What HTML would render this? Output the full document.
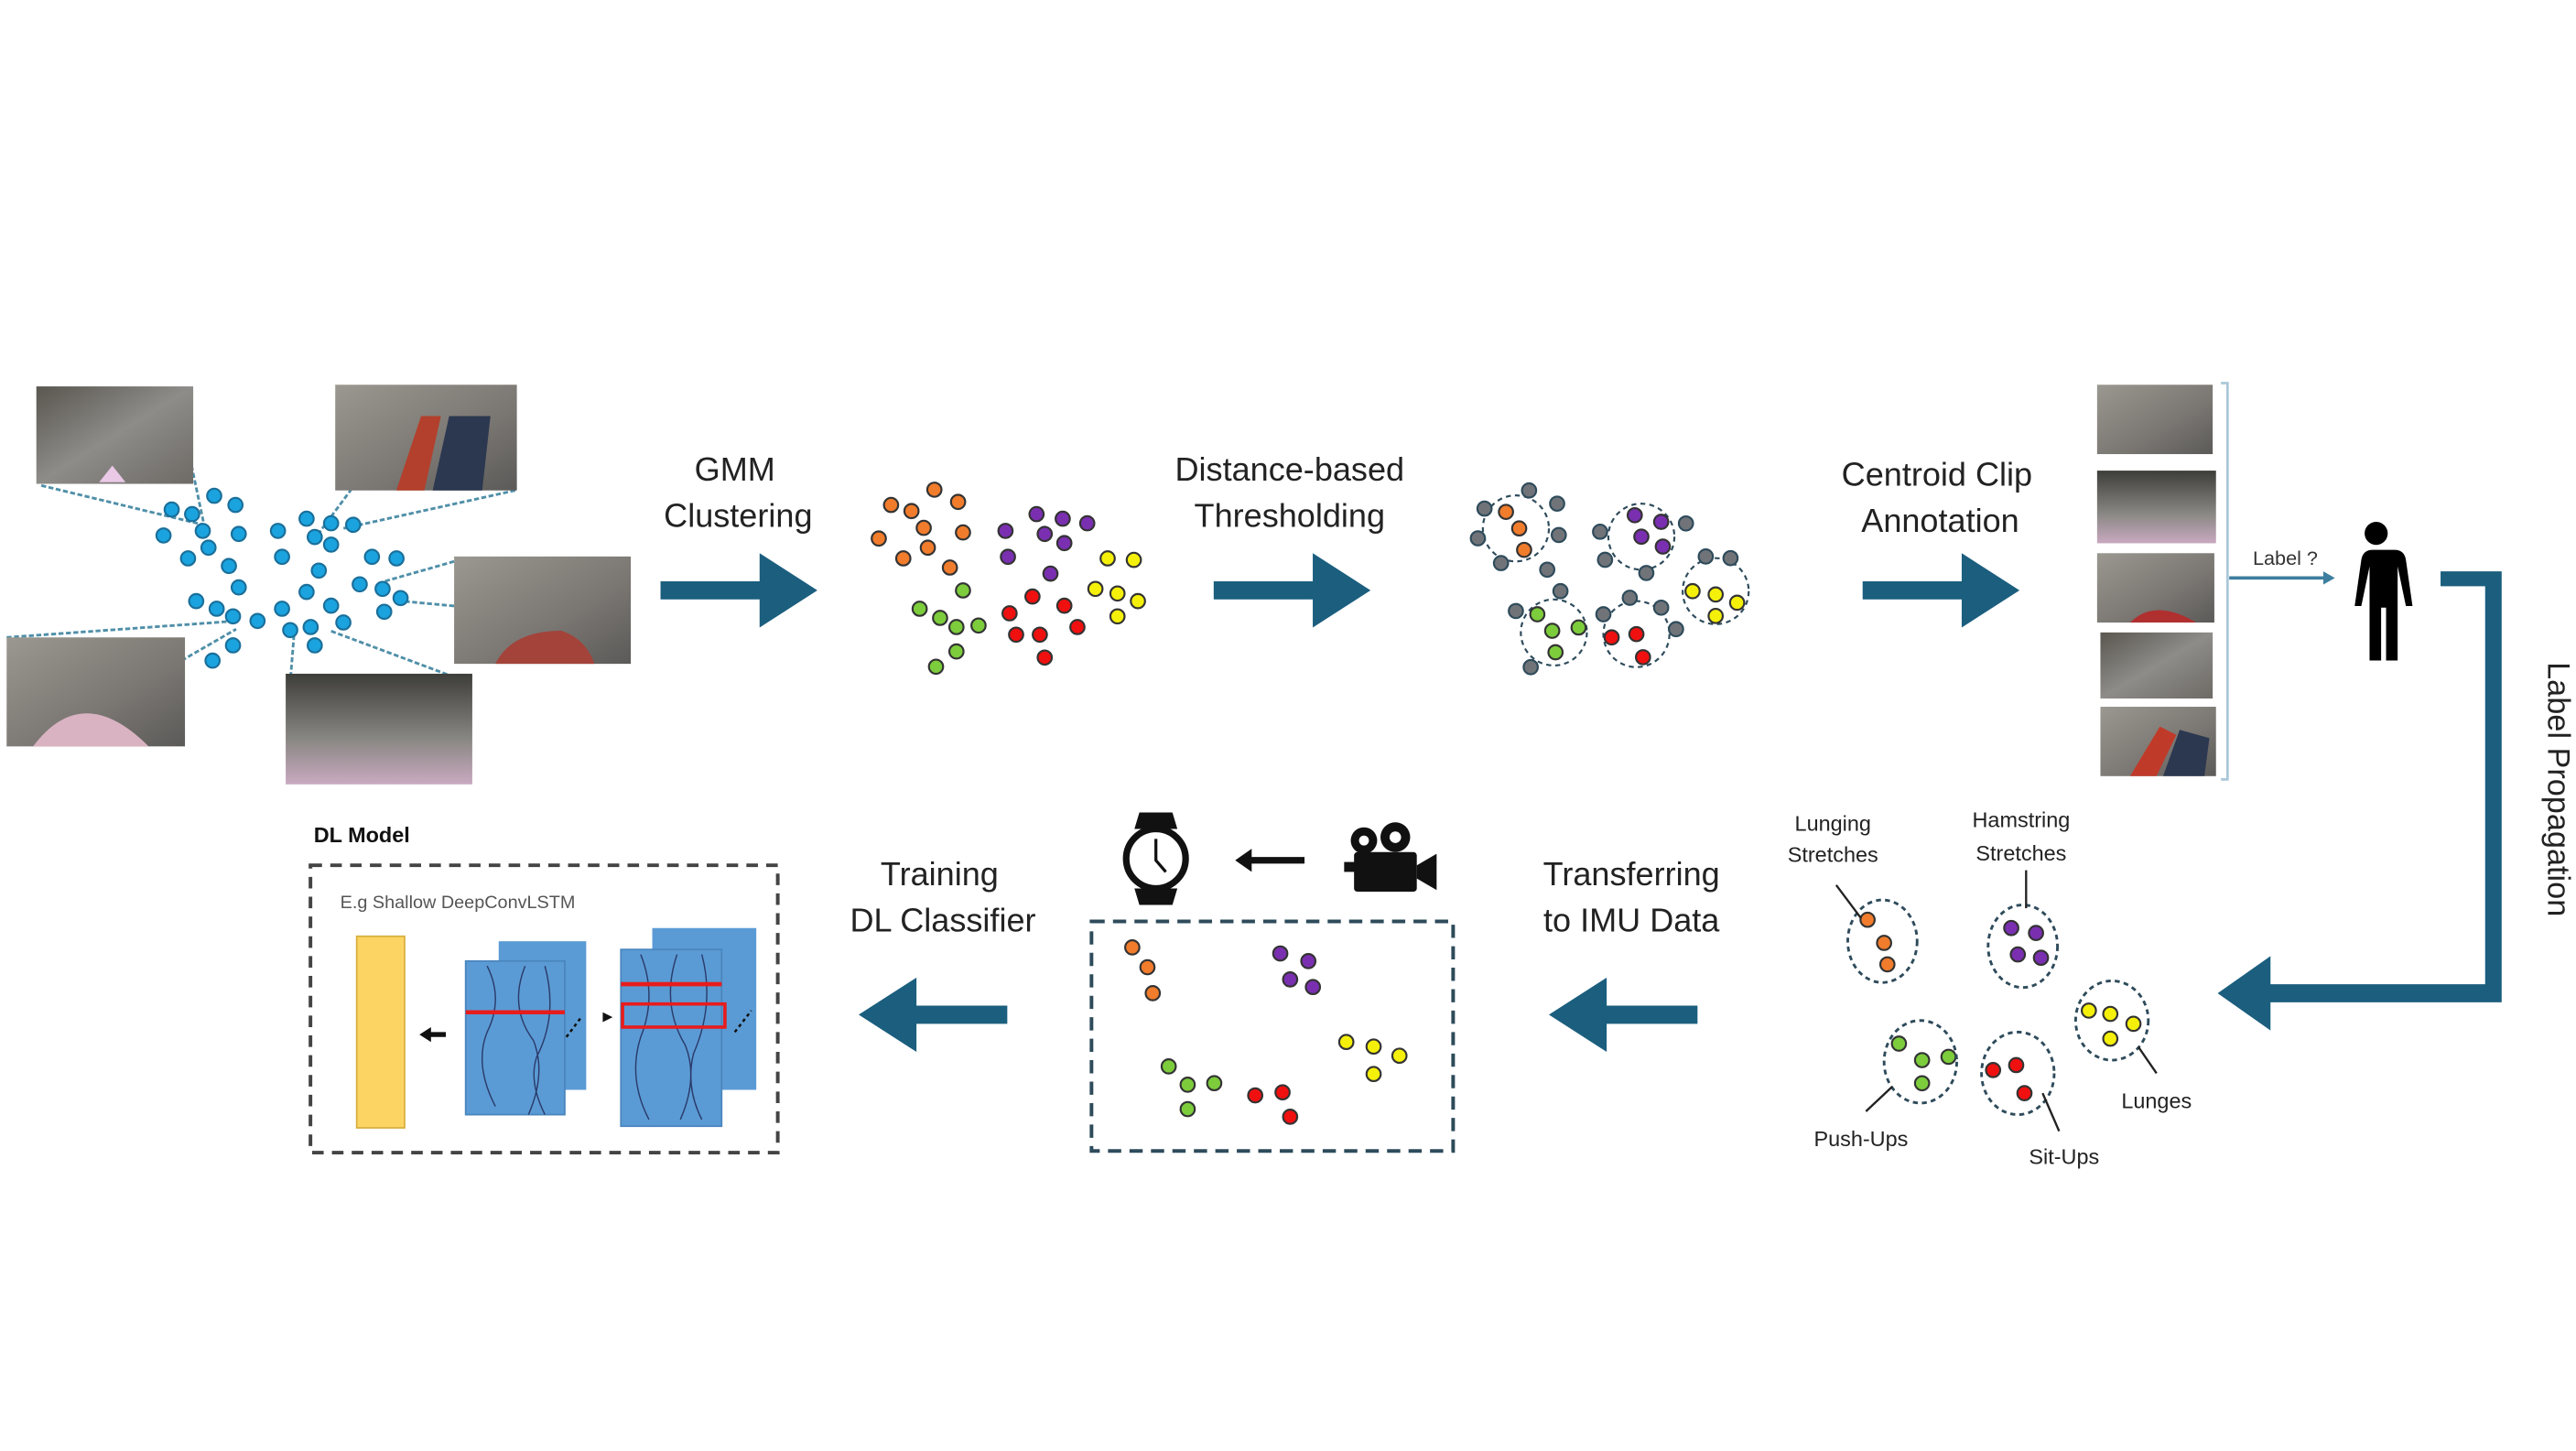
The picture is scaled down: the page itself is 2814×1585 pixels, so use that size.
<!DOCTYPE html>
<html><head><meta charset="utf-8"><style>
html,body{margin:0;padding:0;background:#fff;}
svg{display:block;}
text{font-family:"Liberation Sans",sans-serif;}
</style></head><body>
<svg id="s" width="2814" height="1585" viewBox="0 0 1560 878.7" xmlns="http://www.w3.org/2000/svg">
<defs>
<linearGradient id="p1" x1="0" y1="0" x2="1" y2="1"><stop offset="0" stop-color="#5a5650"/><stop offset="0.5" stop-color="#8d8c88"/><stop offset="1" stop-color="#6e6a66"/></linearGradient>
<linearGradient id="p2" x1="0" y1="0" x2="1" y2="1"><stop offset="0" stop-color="#9a9890"/><stop offset="0.6" stop-color="#7a7672"/><stop offset="1" stop-color="#5b5a58"/></linearGradient>
<linearGradient id="p3" x1="0" y1="0" x2="0" y2="1"><stop offset="0" stop-color="#3d3d3a"/><stop offset="0.6" stop-color="#8a8884"/><stop offset="1" stop-color="#c9a9c0"/></linearGradient>
</defs>

<!-- leader lines -->
<g stroke="#4f8fa8" stroke-width="1.6" stroke-dasharray="3 1.5">
<line x1="25" y1="294" x2="124" y2="318"/><line x1="116" y1="282" x2="124" y2="320"/>
<line x1="213" y1="296" x2="190" y2="327"/><line x1="312" y1="297" x2="208" y2="320"/>
<line x1="275" y1="340" x2="233" y2="352"/><line x1="275" y1="367" x2="243" y2="364"/>
<line x1="275" y1="410" x2="200" y2="382"/><line x1="176" y1="410" x2="178" y2="385"/>
<line x1="4" y1="386" x2="144" y2="376"/><line x1="110" y1="400" x2="143" y2="381"/>
</g>
<!-- photos -->
<rect x="22" y="234" width="95" height="59" fill="url(#p1)"/>
<path d="M60 292 l8 -10 l8 10z" fill="#e9c9e6"/>
<rect x="203" y="233" width="110" height="64" fill="url(#p2)"/>
<path d="M240 297 l15 -45 l12 0 l-10 45z" fill="#b3402c"/><path d="M262 297 l10 -45 l25 0 l-5 45z" fill="#2c3850"/>
<rect x="275" y="337" width="107" height="65" fill="url(#p2)"/>
<path d="M300 402 q10 -20 40 -20 q15 5 20 20z" fill="#a3433a"/>
<rect x="4" y="386" width="108" height="66" fill="url(#p2)"/>
<path d="M20 452 q30 -40 70 0z" fill="#d9b3c2"/>
<rect x="173" y="408" width="113" height="67" fill="url(#p3)"/>

<g id="dots"></g>

<!-- texts -->
<g font-size="20" fill="#222" text-anchor="middle">
<text x="445" y="291">GMM</text><text x="447" y="319">Clustering</text>
<text x="781" y="291">Distance-based</text><text x="781" y="319">Thresholding</text>
<text x="1173" y="294">Centroid Clip</text><text x="1175" y="322">Annotation</text>
<text x="569" y="536">Training</text><text x="571" y="564">DL Classifier</text>
<text x="988" y="536">Transferring</text><text x="988" y="564">to IMU Data</text>
</g>
<text x="1543" y="478" font-size="19" fill="#222" text-anchor="middle" transform="rotate(90 1543 478)">Label Propagation</text>

<!-- big arrows -->
<g fill="#1b5e7e">
<path d="M400 352 h60 v-17 l35 22.5 l-35 22.5 v-17 h-60z"/>
<path d="M735 352 h60 v-17 l35 22.5 l-35 22.5 v-17 h-60z"/>
<path d="M1128 352 h60 v-17 l35 22.5 l-35 22.5 v-17 h-60z"/>
<path d="M1028 609 h-55 v-17 l-35 22.5 l35 22.5 v-17 h55z"/>
<path d="M610 609 h-55 v-17 l-35 22.5 l35 22.5 v-17 h55z"/>
<path d="M1478 346 h37 v261 h-140 v17 l-32 -22.5 l32 -22.5 v17 h130 v-241 h-27z"/>
</g>

<!-- photo column -->
<rect x="1270" y="233" width="70" height="42" fill="url(#p2)"/>
<rect x="1270" y="285" width="72" height="44" fill="url(#p3)"/>
<rect x="1270" y="335" width="71" height="42" fill="url(#p2)"/><path d="M1290 377 q15 -15 40 0z" fill="#b03030"/>
<rect x="1272" y="383" width="68" height="40" fill="url(#p1)"/>
<rect x="1272" y="428" width="70" height="42" fill="url(#p2)"/><path d="M1290 470 l18 -30 l10 5 l-12 25z" fill="#c03a2a"/><path d="M1310 470 l10 -28 l18 5 l-3 23z" fill="#2c3850"/>
<path d="M1345 232 h4 v240 h-4" fill="none" stroke="#a9c8d8" stroke-width="1.5"/>
<line x1="1350" y1="350" x2="1407" y2="350" stroke="#3d7e9e" stroke-width="2"/>
<path d="M1407 346 l7 4 l-7 4z" fill="#3d7e9e"/>
<text x="1384" y="342" font-size="12" fill="#333" text-anchor="middle">Label ?</text>
<!-- person -->
<g fill="#000">
<circle cx="1439" cy="323" r="7"/>
<path d="M1428 333 h22 q6 0 7 6 l4 28 h-4 l-5 -24 v57 h-7 v-32 h-3 v32 h-7 v-57 l-5 24 h-4 l4 -28 q1 -6 7 -6z"/>
</g>

<!-- labelled clusters -->
<g fill="none" stroke="#2e4b5b" stroke-width="1.6" stroke-dasharray="3 2.5">
<ellipse cx="1140" cy="570" rx="21" ry="25"/>
<ellipse cx="1225" cy="573" rx="21" ry="25"/>
<ellipse cx="1279" cy="618" rx="22" ry="24"/>
<ellipse cx="1163" cy="643" rx="22" ry="25"/>
<ellipse cx="1222" cy="650" rx="22" ry="25"/>
</g>
<g stroke="#222" stroke-width="1.3">
<line x1="1112" y1="536" x2="1127" y2="556"/><line x1="1227" y1="527" x2="1227" y2="550"/>
<line x1="1306" y1="650" x2="1295" y2="634"/><line x1="1130" y1="673" x2="1146" y2="658"/>
<line x1="1247" y1="685" x2="1237" y2="662"/>
</g>
<g font-size="13" fill="#222" text-anchor="middle">
<text x="1110" y="503">Lunging</text><text x="1110" y="522">Stretches</text>
<text x="1224" y="501">Hamstring</text><text x="1224" y="521">Stretches</text>
<text x="1306" y="671">Lunges</text><text x="1127" y="694">Push-Ups</text><text x="1250" y="705">Sit-Ups</text>
</g>

<!-- dashed box middle -->
<rect x="661" y="558" width="219" height="139" fill="none" stroke="#2e4b5b" stroke-width="2.2" stroke-dasharray="8 5"/>
<!-- watch -->
<g>
<path d="M690 492 h20 l3 10 h-26z M687 538 h26 l-3 10 h-20z" fill="#111"/>
<circle cx="700" cy="520" r="18" fill="#fff" stroke="#111" stroke-width="4"/>
<path d="M700 508 v13 l6 7" stroke="#111" stroke-width="1.8" fill="none"/>
</g>
<path d="M790 519 h-32 v-5 l-10 7 l10 7 v-5 h32z" fill="#111"/>
<!-- camera -->
<g fill="#111">
<circle cx="826" cy="509" r="8"/><circle cx="845" cy="507" r="9"/>
<circle cx="826" cy="509" r="3" fill="#fff"/><circle cx="845" cy="507" r="3.5" fill="#fff"/>
<rect x="820" y="516" width="38" height="24" rx="2"/>
<path d="M858 524 l12 -7 v22 l-12 -7z"/><rect x="814" y="522" width="7" height="6"/>
</g>

<!-- DL model -->
<text x="190" y="510" font-size="13" font-weight="bold" fill="#111">DL Model</text>
<rect x="188" y="524" width="283" height="174" fill="none" stroke="#444" stroke-width="2.2" stroke-dasharray="7 5"/>
<text x="206" y="550" font-size="11" fill="#555">E.g Shallow DeepConvLSTM</text>
<rect x="216" y="567" width="29" height="116" fill="#fcd464" stroke="#d9b040" stroke-width="1"/>
<path d="M270 625 h-9 v-3 l-7 4.5 l7 4.5 v-3 h9z" fill="#111"/>
<rect x="302" y="570" width="53" height="90" fill="#5b9bd5"/>
<rect x="282" y="582" width="60" height="93" fill="#5b9bd5" stroke="#4a86bd"/>
<rect x="395" y="562" width="63" height="98" fill="#5b9bd5"/>
<rect x="376" y="575" width="61" height="107" fill="#5b9bd5" stroke="#4a86bd"/>
<g stroke="#2a3b6b" stroke-width="0.8" fill="none">
<path d="M295 585 q10 20 0 40 q-8 20 5 45"/><path d="M318 585 q-10 25 5 45 q8 20 -3 45"/><path d="M330 585 q8 30 -5 55 q-5 15 5 35"/>
<path d="M388 578 q10 25 0 50 q-8 25 5 50"/><path d="M410 578 q-10 30 5 55 q8 20 -3 45"/><path d="M425 578 q8 30 -5 60 q-5 20 5 40"/>
</g>
<line x1="282" y1="613" x2="342" y2="613" stroke="#e81c1c" stroke-width="2.5"/>
<line x1="376" y1="596" x2="437" y2="596" stroke="#e81c1c" stroke-width="2.5"/>
<rect x="377" y="608" width="62" height="14" fill="none" stroke="#e81c1c" stroke-width="2"/>
<g stroke="#111" stroke-width="1.4" stroke-dasharray="2 2"><line x1="343" y1="628" x2="352" y2="616"/><line x1="445" y1="625" x2="455" y2="612"/></g>
<path d="M365 613 l6 3 l-6 3z" fill="#111"/>
</svg>
<script>
var g=document.getElementById('dots'),NS='http://www.w3.org/2000/svg';
function d(x,y,f,st,r){var c=document.createElementNS(NS,'circle');c.setAttribute('cx',x);c.setAttribute('cy',y);c.setAttribute('r',r||4.3);c.setAttribute('fill',f);c.setAttribute('stroke',st||'#333');c.setAttribute('stroke-width','1.2');g.appendChild(c);}
function z1(a,f){a.forEach(function(p){d(p[0]/2.02,210.6+p[1]/5.41,f,f=='#1aa3de'?'#1a6f9a':'#333');});}
z1([[262,485],[288,515],[210,530],[235,545],[375,560],[405,575],[432,580],[248,600],[292,610],[340,600],[385,620],[405,645],[200,615],[255,655],[230,690],[345,685],[455,685],[485,690],[280,715],[390,730],[440,775],[468,790],[490,820],[292,785],[375,800],[240,830],[265,855],[345,855],[405,845],[470,865],[285,880],[315,895],[420,900],[355,925],[380,915],[385,975],[285,975],[260,1025]],'#1aa3de');
z1([[1143,465],[1172,505],[1090,515],[1115,535],[1130,590],[1178,605],[1075,625],[1135,655],[1105,690],[1162,720]],'#f07c2c');
z1([[1268,545],[1300,560],[1330,575],[1230,600],[1278,610],[1302,640],[1233,685],[1285,740]],'#7a2fb0');
z1([[1355,690],[1387,695],[1340,790],[1367,805],[1392,830],[1367,880]],'#f5f00a');
z1([[1178,795],[1125,855],[1150,885],[1170,915],[1197,910],[1170,995],[1145,1045]],'#7ccc3c');
z1([[1263,815],[1302,845],[1235,870],[1318,915],[1243,940],[1272,940],[1278,1015]],'#f01010');
// threshold clusters
var E=document.createElementNS;
[[918,320],[994,325],[1039,358],[941,383],[991,384]].forEach(function(p){var e=document.createElementNS(NS,'circle');e.setAttribute('cx',p[0]);e.setAttribute('cy',p[1]);e.setAttribute('r',20);e.setAttribute('fill','none');e.setAttribute('stroke','#2e4b5b');e.setAttribute('stroke-width','1.2');e.setAttribute('stroke-dasharray','3 2.5');g.appendChild(e);});
[[899,308],[926,297],[943,305],[895,326],[944,324],[909,341],[937,345],[969,322],[972,339],[997,347],[1021,317],[1033,337],[1048,338],[945,358],[918,370],[927,404],[987,362],[971,372],[1006,368],[1015,381]].forEach(function(p){d(p[0],p[1],'#707478','#2e4b5b');});
[[912,310],[920,320],[923,333]].forEach(function(p){d(p[0],p[1],'#f07c2c');});
[[990,312],[1006,316],[994,325],[1007,331]].forEach(function(p){d(p[0],p[1],'#7a2fb0');});
[[1025,358],[1039,360],[1052,365],[1039,373]].forEach(function(p){d(p[0],p[1],'#f5f00a');});
[[931,372],[940,382],[956,380],[942,395]].forEach(function(p){d(p[0],p[1],'#7ccc3c');});
[[976,386],[991,384],[995,398]].forEach(function(p){d(p[0],p[1],'#f01010');});
// labelled clusters
[[1131,557],[1141,571],[1143,584]].forEach(function(p){d(p[0],p[1],'#f07c2c');});
[[1218,562],[1233,565],[1222,578],[1236,580]].forEach(function(p){d(p[0],p[1],'#7a2fb0');});
[[1265,612],[1278,614],[1292,620],[1278,629]].forEach(function(p){d(p[0],p[1],'#f5f00a');});
[[1150,632],[1164,642],[1180,640],[1164,656]].forEach(function(p){d(p[0],p[1],'#7ccc3c');});
[[1207,648],[1221,645],[1226,662]].forEach(function(p){d(p[0],p[1],'#f01010');});
// middle box dots
function z3(a,f){a.forEach(function(p){d((300+p[0]/1.206)/1.804,(860+p[1]/3)/1.804,f);});}
z3([[1130,525],[1150,590],[1157,675]],'#f07c2c');
z3([[1325,545],[1362,570],[1338,630],[1368,655]],'#7a2fb0');
z3([[1412,835],[1448,850],[1482,880],[1448,940]],'#f5f00a');
z3([[1178,915],[1203,975],[1238,970],[1203,1055]],'#7ccc3c');
z3([[1292,1010],[1328,1000],[1338,1080]],'#f01010');
</script>
</body></html>
